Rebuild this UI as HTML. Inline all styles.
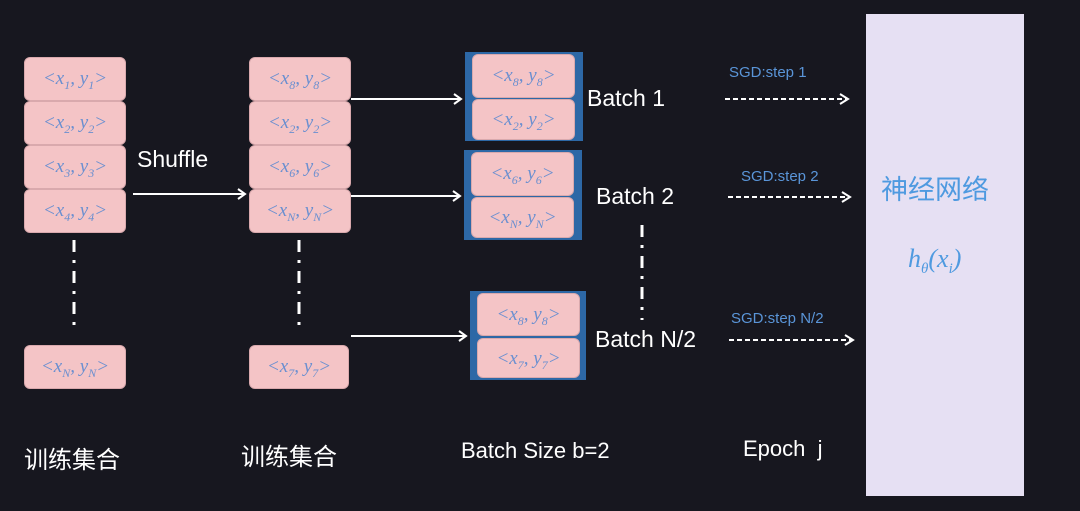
<!DOCTYPE html>
<html><head><meta charset="utf-8"><style>
body{margin:0;width:1080px;height:511px;background:#17171f;position:relative;overflow:hidden;font-family:"Liberation Sans","Noto Sans CJK SC",sans-serif;}
.b{position:absolute;background:#f4c4c6;border-radius:6px;color:#6a8fd0;font-family:"Liberation Serif",serif;font-style:italic;font-size:19px;text-align:center;box-sizing:border-box;border:1px solid #d9a9ad;}
.b sub{font-size:12px;}
.f{position:absolute;background:#2d68a6;}
.t{position:absolute;color:#fff;font-size:23px;white-space:nowrap;}
.s{position:absolute;color:#5a95d8;font-size:15px;white-space:nowrap;}
</style></head><body>
<div style="position:absolute;left:866px;top:14px;width:158px;height:482px;background:#e6e0f3"></div>
<div style="position:absolute;left:881px;top:168px;color:#4f9ae0;font-size:27px;font-family:'Noto Sans CJK SC',sans-serif">神经网络</div>
<div style="position:absolute;left:908px;top:244px;color:#4f9ae0;font-size:26px;font-family:'Liberation Serif',serif;font-style:italic">h<sub style="font-size:15px">θ</sub>(x<sub style="font-size:15px">i</sub>)</div>

<div class="f" style="left:465px;top:52px;width:118px;height:89px"></div>
<div class="f" style="left:464px;top:150px;width:118px;height:90px"></div>
<div class="f" style="left:470px;top:291px;width:116px;height:89px"></div>

<div class="b" style="left:24px;top:57px;width:102px;height:44px;line-height:42px">&lt;x<sub>1</sub>, y<sub>1</sub>&gt;</div>
<div class="b" style="left:24px;top:101px;width:102px;height:44px;line-height:42px">&lt;x<sub>2</sub>, y<sub>2</sub>&gt;</div>
<div class="b" style="left:24px;top:145px;width:102px;height:44px;line-height:42px">&lt;x<sub>3</sub>, y<sub>3</sub>&gt;</div>
<div class="b" style="left:24px;top:189px;width:102px;height:44px;line-height:42px">&lt;x<sub>4</sub>, y<sub>4</sub>&gt;</div>
<div class="b" style="left:24px;top:345px;width:102px;height:44px;line-height:42px">&lt;x<sub>N</sub>, y<sub>N</sub>&gt;</div>

<div class="b" style="left:249px;top:57px;width:102px;height:44px;line-height:42px">&lt;x<sub>8</sub>, y<sub>8</sub>&gt;</div>
<div class="b" style="left:249px;top:101px;width:102px;height:44px;line-height:42px">&lt;x<sub>2</sub>, y<sub>2</sub>&gt;</div>
<div class="b" style="left:249px;top:145px;width:102px;height:44px;line-height:42px">&lt;x<sub>6</sub>, y<sub>6</sub>&gt;</div>
<div class="b" style="left:249px;top:189px;width:102px;height:44px;line-height:42px">&lt;x<sub>N</sub>, y<sub>N</sub>&gt;</div>
<div class="b" style="left:249px;top:345px;width:100px;height:44px;line-height:42px">&lt;x<sub>7</sub>, y<sub>7</sub>&gt;</div>

<div class="b" style="left:472px;top:54px;width:103px;height:44px;line-height:42px">&lt;x<sub>8</sub>, y<sub>8</sub>&gt;</div>
<div class="b" style="left:472px;top:99px;width:103px;height:41px;line-height:40px">&lt;x<sub>2</sub>, y<sub>2</sub>&gt;</div>
<div class="b" style="left:471px;top:152px;width:103px;height:44px;line-height:42px">&lt;x<sub>6</sub>, y<sub>6</sub>&gt;</div>
<div class="b" style="left:471px;top:197px;width:103px;height:41px;line-height:40px">&lt;x<sub>N</sub>, y<sub>N</sub>&gt;</div>
<div class="b" style="left:477px;top:293px;width:103px;height:43px;line-height:41px">&lt;x<sub>8</sub>, y<sub>8</sub>&gt;</div>
<div class="b" style="left:477px;top:338px;width:103px;height:40px;line-height:39px">&lt;x<sub>7</sub>, y<sub>7</sub>&gt;</div>

<svg width="1080" height="511" style="position:absolute;left:0;top:0">
<g stroke="#fff" stroke-width="2" fill="none">
<path d="M133 194H245M238 189l7 5-7 5"/>
<path d="M351 99H461M454 94l7 5-7 5"/>
<path d="M351 196H460M453 191l7 5-7 5"/>
<path d="M351 336H466M459 331l7 5-7 5"/>
<g stroke-dasharray="5 3"><path d="M725 99H846"/><path d="M728 197H848"/><path d="M729 340H851"/></g>
<path d="M840 94l8 5-8 5M842 192l8 5-8 5M845 335l8 5-8 5"/>
<g stroke-width="3" stroke-dasharray="12 8 3 8"><path d="M74 240V330"/><path d="M299 240V330"/><path d="M642 225V320"/></g>
</g></svg>

<div class="t" style="left:137px;top:146px">Shuffle</div>
<div class="t" style="left:587px;top:85px">Batch 1</div>
<div class="t" style="left:596px;top:183px">Batch 2</div>
<div class="t" style="left:595px;top:326px">Batch N/2</div>
<div class="s" style="left:729px;top:64px">SGD:step 1</div>
<div class="s" style="left:741px;top:168px">SGD:step 2</div>
<div class="s" style="left:731px;top:310px">SGD:step N/2</div>
<div class="t" style="left:24px;top:440px;font-size:24px">训练集合</div>
<div class="t" style="left:241px;top:437px;font-size:24px">训练集合</div>
<div class="t" style="left:461px;top:438px;font-size:22px">Batch Size b=2</div>
<div class="t" style="left:743px;top:436px;font-size:22px">Epoch &nbsp;j</div>
</body></html>
